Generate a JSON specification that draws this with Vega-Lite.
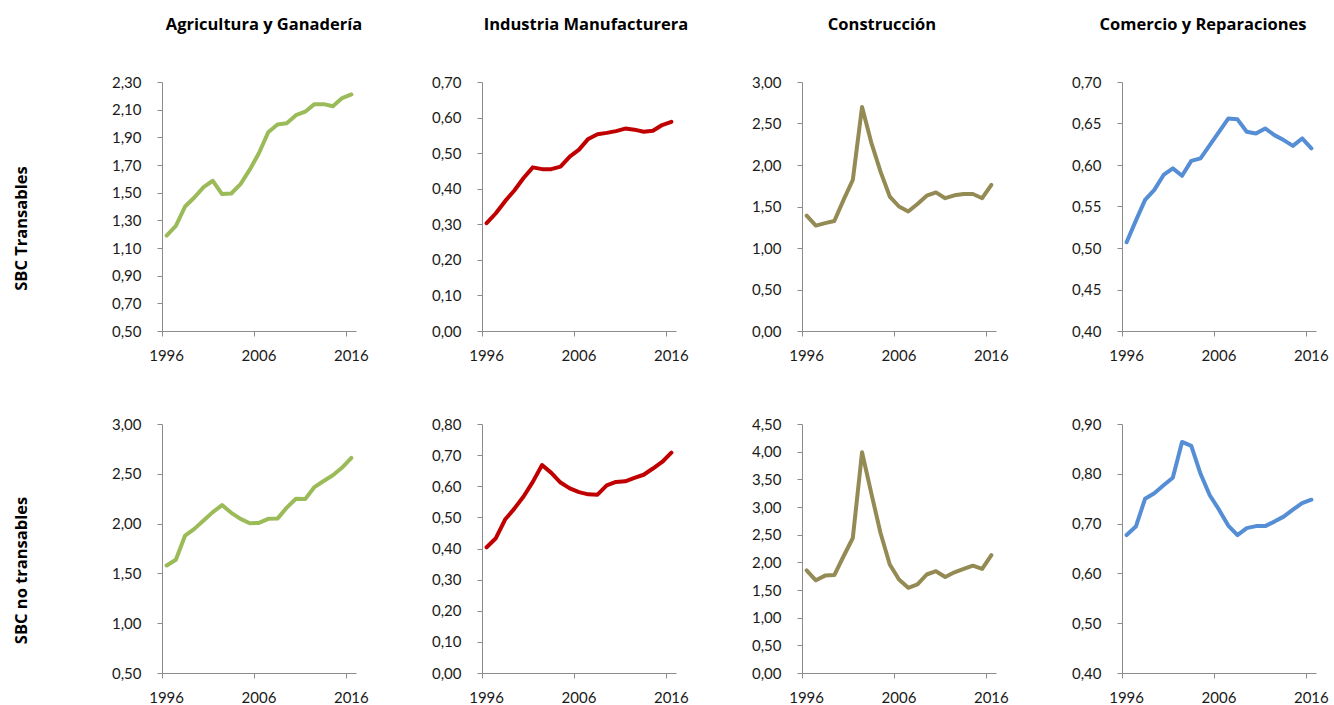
{
  "$schema": "https://vega.github.io/schema/vega-lite/v6.json",
  "background": "white",
  "padding": {"left": 13, "top": 16, "right": 5, "bottom": 5},
  "config": {
    "locale": {"number": {"decimal": ",", "thousands": ".", "grouping": [3], "currency": ["", " €"]}},
    "view": {"stroke": null},
    "font": "Lato",
    "axis": {
      "grid": false,
      "domainColor": "#8c8c8c",
      "tickColor": "#8c8c8c",
      "tickSize": 5,
      "labelFont": "Lato",
      "labelFontSize": 15,
      "labelColor": "#1a1a1a",
      "titleFont": "Open Sans",
      "titleFontSize": 16.5,
      "titleFontWeight": "bold",
      "titleColor": "#000000"
    },
    "axisX": {"labelPadding": 12, "labelAngle": 0},
    "axisY": {"labelPadding": 16},
    "title": {"font": "Open Sans", "fontSize": 16.5, "fontWeight": "bold", "color": "#000000", "frame": "group", "anchor": "middle", "offset": 42},
    "line": {"strokeWidth": 4, "strokeJoin": "round", "strokeCap": "round"}
  },
  "datasets": {
    "agro_t": [
      {"year": 1996, "value": 1.19}, {"year": 1997, "value": 1.26}, {"year": 1998, "value": 1.40}, {"year": 1999, "value": 1.465},
      {"year": 2000, "value": 1.54}, {"year": 2001, "value": 1.586}, {"year": 2002, "value": 1.49}, {"year": 2003, "value": 1.494},
      {"year": 2004, "value": 1.562}, {"year": 2005, "value": 1.666}, {"year": 2006, "value": 1.787}, {"year": 2007, "value": 1.937},
      {"year": 2008, "value": 1.993}, {"year": 2009, "value": 2.002}, {"year": 2010, "value": 2.06}, {"year": 2011, "value": 2.085},
      {"year": 2012, "value": 2.14}, {"year": 2013, "value": 2.14}, {"year": 2014, "value": 2.125}, {"year": 2015, "value": 2.184},
      {"year": 2016, "value": 2.21}
    ],
    "ind_t": [
      {"year": 1996, "value": 0.303}, {"year": 1997, "value": 0.331}, {"year": 1998, "value": 0.365}, {"year": 1999, "value": 0.395},
      {"year": 2000, "value": 0.43}, {"year": 2001, "value": 0.46}, {"year": 2002, "value": 0.455}, {"year": 2003, "value": 0.455},
      {"year": 2004, "value": 0.462}, {"year": 2005, "value": 0.49}, {"year": 2006, "value": 0.51}, {"year": 2007, "value": 0.54},
      {"year": 2008, "value": 0.553}, {"year": 2009, "value": 0.557}, {"year": 2010, "value": 0.562}, {"year": 2011, "value": 0.569},
      {"year": 2012, "value": 0.566}, {"year": 2013, "value": 0.56}, {"year": 2014, "value": 0.563}, {"year": 2015, "value": 0.579},
      {"year": 2016, "value": 0.588}
    ],
    "cons_t": [
      {"year": 1996, "value": 1.39}, {"year": 1997, "value": 1.27}, {"year": 1998, "value": 1.30}, {"year": 1999, "value": 1.325},
      {"year": 2000, "value": 1.58}, {"year": 2001, "value": 1.82}, {"year": 2002, "value": 2.70}, {"year": 2003, "value": 2.27},
      {"year": 2004, "value": 1.92}, {"year": 2005, "value": 1.62}, {"year": 2006, "value": 1.50}, {"year": 2007, "value": 1.44},
      {"year": 2008, "value": 1.53}, {"year": 2009, "value": 1.63}, {"year": 2010, "value": 1.67}, {"year": 2011, "value": 1.60},
      {"year": 2012, "value": 1.635}, {"year": 2013, "value": 1.65}, {"year": 2014, "value": 1.65}, {"year": 2015, "value": 1.60},
      {"year": 2016, "value": 1.76}
    ],
    "com_t": [
      {"year": 1996, "value": 0.507}, {"year": 1997, "value": 0.533}, {"year": 1998, "value": 0.558}, {"year": 1999, "value": 0.570},
      {"year": 2000, "value": 0.588}, {"year": 2001, "value": 0.596}, {"year": 2002, "value": 0.587}, {"year": 2003, "value": 0.605},
      {"year": 2004, "value": 0.608}, {"year": 2005, "value": 0.624}, {"year": 2006, "value": 0.640}, {"year": 2007, "value": 0.656},
      {"year": 2008, "value": 0.655}, {"year": 2009, "value": 0.640}, {"year": 2010, "value": 0.638}, {"year": 2011, "value": 0.644},
      {"year": 2012, "value": 0.636}, {"year": 2013, "value": 0.630}, {"year": 2014, "value": 0.623}, {"year": 2015, "value": 0.632},
      {"year": 2016, "value": 0.620}
    ],
    "agro_n": [
      {"year": 1996, "value": 1.58}, {"year": 1997, "value": 1.637}, {"year": 1998, "value": 1.88}, {"year": 1999, "value": 1.947},
      {"year": 2000, "value": 2.03}, {"year": 2001, "value": 2.115}, {"year": 2002, "value": 2.186}, {"year": 2003, "value": 2.108},
      {"year": 2004, "value": 2.048}, {"year": 2005, "value": 2.004}, {"year": 2006, "value": 2.007}, {"year": 2007, "value": 2.048},
      {"year": 2008, "value": 2.05}, {"year": 2009, "value": 2.16}, {"year": 2010, "value": 2.25}, {"year": 2011, "value": 2.246},
      {"year": 2012, "value": 2.367}, {"year": 2013, "value": 2.428}, {"year": 2014, "value": 2.485}, {"year": 2015, "value": 2.563},
      {"year": 2016, "value": 2.66}
    ],
    "ind_n": [
      {"year": 1996, "value": 0.404}, {"year": 1997, "value": 0.433}, {"year": 1998, "value": 0.493}, {"year": 1999, "value": 0.528},
      {"year": 2000, "value": 0.567}, {"year": 2001, "value": 0.614}, {"year": 2002, "value": 0.668}, {"year": 2003, "value": 0.643},
      {"year": 2004, "value": 0.612}, {"year": 2005, "value": 0.593}, {"year": 2006, "value": 0.581}, {"year": 2007, "value": 0.574},
      {"year": 2008, "value": 0.573}, {"year": 2009, "value": 0.603}, {"year": 2010, "value": 0.614}, {"year": 2011, "value": 0.616},
      {"year": 2012, "value": 0.627}, {"year": 2013, "value": 0.637}, {"year": 2014, "value": 0.657}, {"year": 2015, "value": 0.678},
      {"year": 2016, "value": 0.708}
    ],
    "cons_n": [
      {"year": 1996, "value": 1.855}, {"year": 1997, "value": 1.675}, {"year": 1998, "value": 1.76}, {"year": 1999, "value": 1.77},
      {"year": 2000, "value": 2.11}, {"year": 2001, "value": 2.44}, {"year": 2002, "value": 3.99}, {"year": 2003, "value": 3.25},
      {"year": 2004, "value": 2.53}, {"year": 2005, "value": 1.96}, {"year": 2006, "value": 1.69}, {"year": 2007, "value": 1.54},
      {"year": 2008, "value": 1.60}, {"year": 2009, "value": 1.78}, {"year": 2010, "value": 1.84}, {"year": 2011, "value": 1.735},
      {"year": 2012, "value": 1.82}, {"year": 2013, "value": 1.88}, {"year": 2014, "value": 1.94}, {"year": 2015, "value": 1.88},
      {"year": 2016, "value": 2.13}
    ],
    "com_n": [
      {"year": 1996, "value": 0.677}, {"year": 1997, "value": 0.694}, {"year": 1998, "value": 0.75}, {"year": 1999, "value": 0.761},
      {"year": 2000, "value": 0.777}, {"year": 2001, "value": 0.792}, {"year": 2002, "value": 0.864}, {"year": 2003, "value": 0.856},
      {"year": 2004, "value": 0.80}, {"year": 2005, "value": 0.757}, {"year": 2006, "value": 0.728}, {"year": 2007, "value": 0.696},
      {"year": 2008, "value": 0.677}, {"year": 2009, "value": 0.691}, {"year": 2010, "value": 0.695}, {"year": 2011, "value": 0.695},
      {"year": 2012, "value": 0.704}, {"year": 2013, "value": 0.714}, {"year": 2014, "value": 0.728}, {"year": 2015, "value": 0.741},
      {"year": 2016, "value": 0.748}
    ]
  },
  "columns": 4,
  "bounds": "flush",
  "spacing": {"row": 93, "column": 126},
  "concat": [
    {
      "width": 194, "height": 249,
      "title": {"text": "Agricultura y Ganadería", "dx": 5},
      "data": {"name": "agro_t"},
      "mark": {"type": "line", "color": "#9BBB59"},
      "encoding": {
        "x": {"field": "year", "type": "ordinal", "scale": {"type": "band", "paddingInner": 0, "paddingOuter": 0}, "axis": {"values": [1996, 2006, 2016], "bandPosition": 0, "title": null}},
        "y": {"field": "value", "type": "quantitative", "scale": {"domain": [0.5, 2.3], "nice": false, "zero": false}, "axis": {"values": [0.5, 0.7, 0.9, 1.1, 1.3, 1.5, 1.7, 1.9, 2.1, 2.3], "format": ".2f", "title": "SBC Transables", "titlePadding": 82, "titleY": 146}}
      }
    },
    {
      "width": 194, "height": 249,
      "title": {"text": "Industria Manufacturera", "dx": 7},
      "data": {"name": "ind_t"},
      "mark": {"type": "line", "color": "#C00000"},
      "encoding": {
        "x": {"field": "year", "type": "ordinal", "scale": {"type": "band", "paddingInner": 0, "paddingOuter": 0}, "axis": {"values": [1996, 2006, 2016], "bandPosition": 0, "title": null}},
        "y": {"field": "value", "type": "quantitative", "scale": {"domain": [0, 0.7], "nice": false, "zero": false}, "axis": {"values": [0, 0.1, 0.2, 0.3, 0.4, 0.5, 0.6, 0.7], "format": ".2f", "title": null}}
      }
    },
    {
      "width": 194, "height": 249,
      "title": {"text": "Construcción", "dx": -17},
      "data": {"name": "cons_t"},
      "mark": {"type": "line", "color": "#948A54"},
      "encoding": {
        "x": {"field": "year", "type": "ordinal", "scale": {"type": "band", "paddingInner": 0, "paddingOuter": 0}, "axis": {"values": [1996, 2006, 2016], "bandPosition": 0, "title": null}},
        "y": {"field": "value", "type": "quantitative", "scale": {"domain": [0, 3], "nice": false, "zero": false}, "axis": {"values": [0, 0.5, 1, 1.5, 2, 2.5, 3], "format": ".2f", "title": null}}
      }
    },
    {
      "width": 194, "height": 249,
      "title": {"text": "Comercio y Reparaciones", "dx": -16},
      "data": {"name": "com_t"},
      "mark": {"type": "line", "color": "#558ED5"},
      "encoding": {
        "x": {"field": "year", "type": "ordinal", "scale": {"type": "band", "paddingInner": 0, "paddingOuter": 0}, "axis": {"values": [1996, 2006, 2016], "bandPosition": 0, "title": null}},
        "y": {"field": "value", "type": "quantitative", "scale": {"domain": [0.4, 0.7], "nice": false, "zero": false}, "axis": {"values": [0.4, 0.45, 0.5, 0.55, 0.6, 0.65, 0.7], "format": ".2f", "title": null}}
      }
    },
    {
      "width": 194, "height": 249,
      "data": {"name": "agro_n"},
      "mark": {"type": "line", "color": "#9BBB59"},
      "encoding": {
        "x": {"field": "year", "type": "ordinal", "scale": {"type": "band", "paddingInner": 0, "paddingOuter": 0}, "axis": {"values": [1996, 2006, 2016], "bandPosition": 0, "title": null}},
        "y": {"field": "value", "type": "quantitative", "scale": {"domain": [0.5, 3], "nice": false, "zero": false}, "axis": {"values": [0.5, 1, 1.5, 2, 2.5, 3], "format": ".2f", "title": "SBC no transables", "titlePadding": 82, "titleY": 146}}
      }
    },
    {
      "width": 194, "height": 249,
      "data": {"name": "ind_n"},
      "mark": {"type": "line", "color": "#C00000"},
      "encoding": {
        "x": {"field": "year", "type": "ordinal", "scale": {"type": "band", "paddingInner": 0, "paddingOuter": 0}, "axis": {"values": [1996, 2006, 2016], "bandPosition": 0, "title": null}},
        "y": {"field": "value", "type": "quantitative", "scale": {"domain": [0, 0.8], "nice": false, "zero": false}, "axis": {"values": [0, 0.1, 0.2, 0.3, 0.4, 0.5, 0.6, 0.7, 0.8], "format": ".2f", "title": null}}
      }
    },
    {
      "width": 194, "height": 249,
      "data": {"name": "cons_n"},
      "mark": {"type": "line", "color": "#948A54"},
      "encoding": {
        "x": {"field": "year", "type": "ordinal", "scale": {"type": "band", "paddingInner": 0, "paddingOuter": 0}, "axis": {"values": [1996, 2006, 2016], "bandPosition": 0, "title": null}},
        "y": {"field": "value", "type": "quantitative", "scale": {"domain": [0, 4.5], "nice": false, "zero": false}, "axis": {"values": [0, 0.5, 1, 1.5, 2, 2.5, 3, 3.5, 4, 4.5], "format": ".2f", "title": null}}
      }
    },
    {
      "width": 194, "height": 249,
      "data": {"name": "com_n"},
      "mark": {"type": "line", "color": "#558ED5"},
      "encoding": {
        "x": {"field": "year", "type": "ordinal", "scale": {"type": "band", "paddingInner": 0, "paddingOuter": 0}, "axis": {"values": [1996, 2006, 2016], "bandPosition": 0, "title": null}},
        "y": {"field": "value", "type": "quantitative", "scale": {"domain": [0.4, 0.9], "nice": false, "zero": false}, "axis": {"values": [0.4, 0.5, 0.6, 0.7, 0.8, 0.9], "format": ".2f", "title": null}}
      }
    }
  ]
}
